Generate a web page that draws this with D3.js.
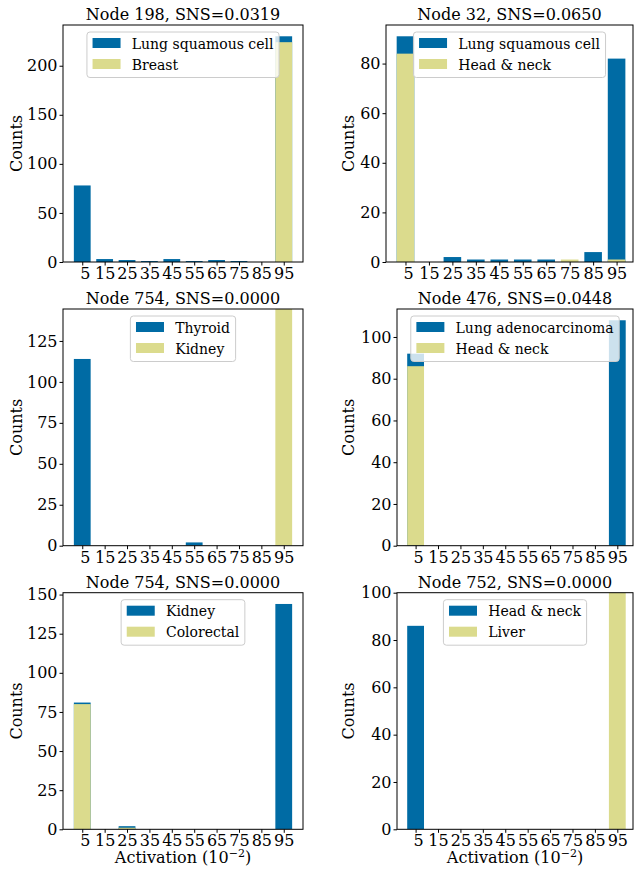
<!DOCTYPE html>
<html>
<head>
<meta charset="utf-8">
<script src="https://cdn.jsdelivr.net/npm/d3@7"></script>
<style>
  body { margin: 0; background: #fff; }
  text { font-family: "DejaVu Serif", serif; fill: #000; }
</style>
</head>
<body>
<script>
var w = 634;
var h = 873;

// activation bins (x tick labels)
var bins = [5, 15, 25, 35, 45, 55, 65, 75, 85, 95];

var titles = ["Node 198, SNS=0.0319", "Node 32, SNS=0.0650",
              "Node 754, SNS=0.0000", "Node 476, SNS=0.0448",
              "Node 754, SNS=0.0000", "Node 752, SNS=0.0000"];

var blueNames = ["Lung squamous cell", "Lung squamous cell", "Thyroid",
                 "Lung adenocarcinoma", "Kidney", "Head & neck"];
var yellowNames = ["Breast", "Head & neck", "Kidney",
                   "Head & neck", "Colorectal", "Liver"];

// counts per bin, blue series drawn first, yellow drawn over it
var blueCounts = [
    [78, 3, 2, 1, 3, 1, 2, 1, 0, 230],
    [91, 0, 2, 1, 1, 1, 1, 0, 4, 82],
    [114, 0, 0, 0, 0, 2, 0, 0, 0, 0],
    [92, 0, 0, 0, 0, 0, 0, 0, 0, 108],
    [81, 0, 2, 0, 0, 0, 0, 0, 0, 144],
    [86, 0, 0, 0, 0, 0, 0, 0, 0, 0]
];
var yellowCounts = [
    [0, 0, 0, 0, 0, 0, 0, 0, 0, 224],
    [84, 0, 0, 0, 0, 0, 0, 1, 0, 1],
    [0, 0, 0, 0, 0, 0, 0, 0, 0, 150],
    [86, 0, 0, 0, 0, 0, 0, 0, 0, 0],
    [80, 0, 1, 0, 0, 0, 0, 0, 0, 0],
    [0, 0, 0, 0, 0, 0, 0, 0, 0, 103]
];

// y limits (null = auto with 5% headroom) and y ticks
var yLimits = [null, null, 144.5, null, null, 100];
var yTicks = [
    [0, 50, 100, 150, 200],
    [0, 20, 40, 60, 80],
    [0, 25, 50, 75, 100, 125],
    [0, 20, 40, 60, 80, 100],
    [0, 25, 50, 75, 100, 125, 150],
    [0, 20, 40, 60, 80, 100]
];

// axes boxes
var boxes = [
    { l: 63, r: 303, t: 25, b: 262, lab: 21.5 },
    { l: 386, r: 633, t: 25, b: 262, lab: 354 },
    { l: 63, r: 303, t: 309, b: 545.7, lab: 21.5 },
    { l: 397, r: 633, t: 309, b: 545.7, lab: 354 },
    { l: 63, r: 303, t: 592.7, b: 829.3, lab: 21.5 },
    { l: 397, r: 633, t: 592.7, b: 829.3, lab: 354 }
];

var blue = "#006BA4";
var yellow = "#DBDB8D";
var fs = 16;      // ticks, labels, titles
var legFs = 14;   // legend entries

var svg = d3.select("body")
        .append("svg")
        .attr("width", w)
        .attr("height", h);

boxes.forEach(function(box, p) {
    var left = (p % 2 == 0);
    var xScale = d3.scaleLinear()
        .domain(left ? [-3.6, 103.6] : [-3.3, 102])
        .range([box.l, box.r]);

    var all = blueCounts[p].concat(yellowCounts[p]);
    var ymax = yLimits[p] || d3.max(all) * 1.05;
    var yScale = d3.scaleLinear()
        .domain([0, ymax])
        .range([box.b, box.t]);

    var g = svg.append("g");

    g.append("clipPath")
        .attr("id", "clip" + p)
        .append("rect")
        .attr("x", box.l).attr("y", box.t)
        .attr("width", box.r - box.l).attr("height", box.b - box.t);

    var bw = xScale(7.5) - xScale(0);

    //bars: blue then yellow on top
    [[blueCounts[p], blue], [yellowCounts[p], yellow]].forEach(function(s) {
        g.append("g")
            .attr("clip-path", "url(#clip" + p + ")")
            .selectAll("rect")
            .data(s[0])
            .enter()
            .append("rect")
            .attr("x", function(d, i) { return xScale(bins[i]) - bw / 2; })
            .attr("y", function(d) { return yScale(d); })
            .attr("width", bw)
            .attr("height", function(d) { return yScale(0) - yScale(d); })
            .attr("fill", s[1]);
    });

    //x axis ticks and labels
    var xAxis = g.append("g")
        .attr("transform", "translate(0," + box.b + ")")
        .call(d3.axisBottom(xScale)
            .tickValues(bins)
            .tickSize(3.5)
            .tickPadding(2));
    xAxis.select(".domain").remove();
    xAxis.selectAll("text")
        .attr("font-size", fs)
        .attr("font-family", "DejaVu Serif")
        .attr("dx", function(d) { return d < 10 ? 2.5 : 0; });

    //y axis
    var yAxis = g.append("g")
        .attr("transform", "translate(" + box.l + ",0)")
        .call(d3.axisLeft(yScale)
            .tickValues(yTicks[p])
            .tickSize(3.5)
            .tickPadding(2));
    yAxis.select(".domain").remove();
    yAxis.selectAll("text")
        .attr("font-size", fs)
        .attr("font-family", "DejaVu Serif");

    //frame
    g.append("rect")
        .attr("x", box.l).attr("y", box.t)
        .attr("width", box.r - box.l).attr("height", box.b - box.t)
        .attr("fill", "none")
        .attr("stroke", "#000")
        .attr("stroke-width", 1);

    //title
    g.append("text")
        .attr("x", (box.l + box.r) / 2)
        .attr("y", box.t - 4.7)
        .attr("text-anchor", "middle")
        .attr("font-size", fs)
        .text(titles[p]);

    //y label
    g.append("text")
        .attr("transform", "translate(" + box.lab + "," + (box.t + box.b) / 2 + ") rotate(-90)")
        .attr("text-anchor", "middle")
        .attr("font-size", fs)
        .text("Counts");

    //x label on bottom row
    if (p >= 4) {
        var xl = g.append("text")
            .attr("x", (box.l + box.r) / 2)
            .attr("y", 863)
            .attr("text-anchor", "middle")
            .attr("font-size", fs);
        xl.append("tspan").text("Activation (10");
        xl.append("tspan").attr("font-size", 11).attr("dy", -6).text("\u22122");
        xl.append("tspan").attr("dy", 6).text(")");
    }

    //legend, upper center
    var leg = g.append("g");
    var frame = leg.append("rect");
    var names = [blueNames[p], yellowNames[p]];
    var cols = [blue, yellow];
    var tw = 0;
    names.forEach(function(n, i) {
        leg.append("rect")
            .attr("x", 5.6).attr("y", 6 + i * 21)
            .attr("width", 28).attr("height", 10)
            .attr("fill", cols[i]);
        var t = leg.append("text")
            .attr("x", 44.8).attr("y", 16.5 + i * 21)
            .attr("font-size", legFs)
            .text(n);
        tw = Math.max(tw, t.node().getComputedTextLength());
    });
    var lw = 44.8 + tw + 5.6;
    frame.attr("x", 0).attr("y", 0)
        .attr("width", lw).attr("height", 45.5)
        .attr("rx", 3).attr("ry", 3)
        .attr("fill", "#fff").attr("fill-opacity", 0.8)
        .attr("stroke", "#cccccc").attr("stroke-width", 1);
    leg.attr("transform", "translate(" + ((box.l + box.r) / 2 - lw / 2) + "," + (box.t + 7) + ")");
});
</script>
</body>
</html>
